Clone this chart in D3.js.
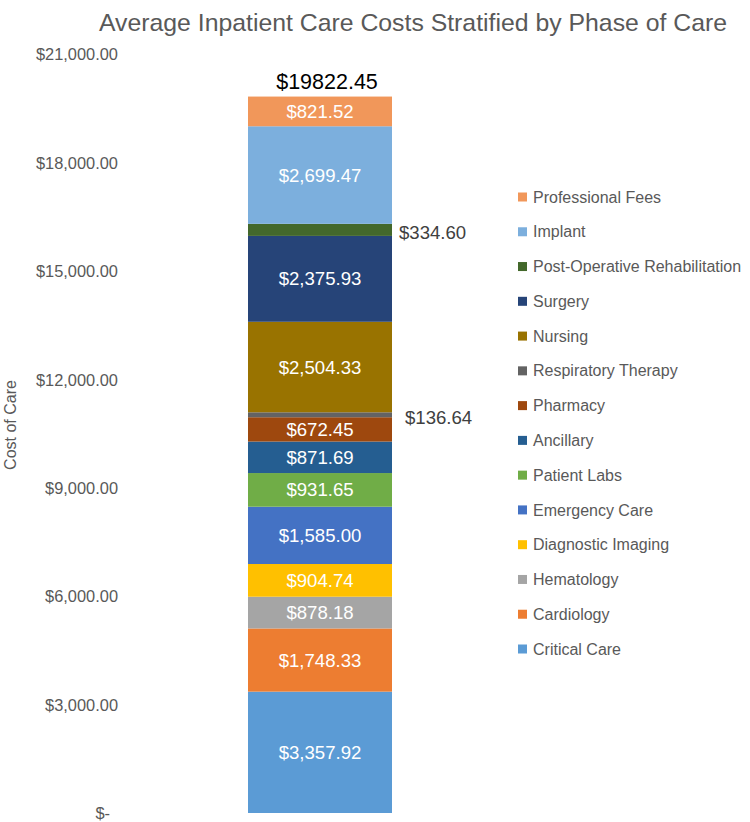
<!DOCTYPE html>
<html>
<head>
<meta charset="utf-8">
<script src="https://cdn.jsdelivr.net/npm/d3@7"></script>
<style>
  html, body { margin: 0; padding: 0; background: #fff; }
  svg { display: block; font-family: "Liberation Sans", Arial, sans-serif; }
</style>
</head>
<body>
<svg id="chart" width="750" height="822"></svg>
<script>
// ---- data (bottom to top of the stack) ----
const categories = ["Critical Care", "Cardiology", "Hematology", "Diagnostic Imaging", "Emergency Care",
  "Patient Labs", "Ancillary", "Pharmacy", "Respiratory Therapy", "Nursing", "Surgery",
  "Post-Operative Rehabilitation", "Implant", "Professional Fees"];
const values = [3357.92, 1748.33, 878.18, 904.74, 1585.00, 931.65, 871.69, 672.45, 136.64,
  2504.33, 2375.93, 334.60, 2699.47, 821.52];
const colors = ["#5B9BD5", "#ED7D31", "#A5A5A5", "#FFC000", "#4472C4", "#70AD47", "#255E91",
  "#9E480E", "#636363", "#997300", "#264478", "#43682B", "#7CAFDD", "#F1975A"];
const tickValues = [0, 3000, 6000, 9000, 12000, 15000, 18000, 21000];
const titleText = "Average Inpatient Care Costs Stratified by Phase of Care";
const yAxisTitle = "Cost of Care";
const barCategory = ["Average"];

const svg = d3.select("#chart");

// scales
const y = d3.scaleLinear().domain([0, 21000]).range([813, 54]);
const x = d3.scaleBand().domain(barCategory).range([248, 392]).padding(0);

// stack
const row = {key: barCategory[0]};
categories.forEach((c, i) => row[c] = values[i]);
const stacked = d3.stack().keys(categories)([row]);
const total = d3.sum(values);

// title
svg.append("text")
  .attr("x", 413).attr("y", 31)
  .attr("text-anchor", "middle")
  .attr("font-size", 24.8)
  .attr("fill", "#595959")
  .text(titleText);

// y axis
const fmtTick = v => v === 0 ? "$-" : d3.format("$,.2f")(v);
const yAxis = d3.axisLeft(y).tickValues(tickValues).tickSize(0).tickPadding(0).tickFormat(fmtTick);
const gAxis = svg.append("g").attr("transform", "translate(118,0)").call(yAxis);
gAxis.select(".domain").remove();
gAxis.selectAll("text")
  .attr("font-size", 16.4)
  .attr("font-family", "'Liberation Sans', Arial, sans-serif")
  .attr("fill", "#595959")
  .attr("dy", "0.35em")
  .attr("dx", d => d === 0 ? -8 : 0);

// y axis title
svg.append("text")
  .attr("transform", "translate(16,425) rotate(-90)")
  .attr("text-anchor", "middle")
  .attr("font-size", 16)
  .attr("fill", "#595959")
  .text(yAxisTitle);

// bars
const segs = svg.append("g").selectAll("g.seg")
  .data(stacked).join("g").attr("class", "seg");
segs.append("rect")
  .attr("x", x(barCategory[0]))
  .attr("width", x.bandwidth())
  .attr("y", d => y(d[0][1]))
  .attr("height", d => y(d[0][0]) - y(d[0][1]))
  .attr("fill", (d, i) => colors[i]);

// segment labels
const fmtVal = d3.format("$,.2f");
segs.append("text")
  .attr("x", d => {
    const h = y(d[0][0]) - y(d[0][1]);
    return h < 20 ? x(barCategory[0]) + x.bandwidth() + (d[0][1] - d[0][0] < 200 ? 13 : 7) : x(barCategory[0]) + x.bandwidth() / 2;
  })
  .attr("y", d => {
    const h = y(d[0][0]) - y(d[0][1]);
    return (y(d[0][0]) + y(d[0][1])) / 2 + (h < 20 ? 3 : 0);
  })
  .attr("dy", "0.35em")
  .attr("text-anchor", d => (y(d[0][0]) - y(d[0][1])) < 20 ? "start" : "middle")
  .attr("font-size", 18.6)
  .attr("fill", d => (y(d[0][0]) - y(d[0][1])) < 20 ? "#404040" : "#ffffff")
  .text(d => fmtVal(d[0][1] - d[0][0]));

// total label
svg.append("text")
  .attr("x", x(barCategory[0]) + x.bandwidth() / 2 + 7)
  .attr("y", y(total) - 15)
  .attr("dy", "0.35em")
  .attr("text-anchor", "middle")
  .attr("font-size", 21.5)
  .attr("fill", "#000000")
  .text("$" + d3.format(".2f")(total));

// legend (reverse order, top = last series)
const legendY = d3.scalePoint().domain(categories.slice().reverse()).range([197, 649]);
const leg = svg.append("g").selectAll("g.leg")
  .data(categories.slice().reverse()).join("g").attr("class", "leg")
  .attr("transform", d => `translate(518,${legendY(d)})`);
leg.append("rect")
  .attr("x", 0).attr("y", -4.5).attr("width", 9).attr("height", 9)
  .attr("fill", d => colors[categories.indexOf(d)]);
leg.append("text")
  .attr("x", 15).attr("y", 0).attr("dy", "0.35em")
  .attr("font-size", 16)
  .attr("fill", "#595959")
  .text(d => d);
</script>
</body>
</html>
